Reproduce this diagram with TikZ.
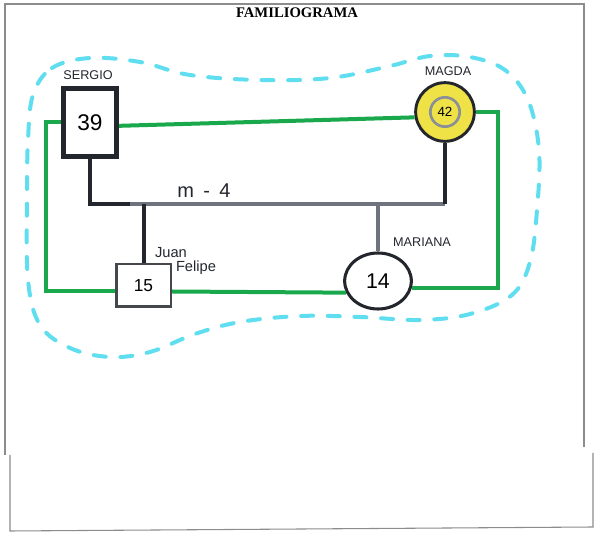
\documentclass[tikz,border=0pt]{standalone}
\usepackage{fontspec}
\setmainfont{Liberation Serif}
\newfontfamily\hand{Liberation Sans}
\usetikzlibrary{shapes.geometric}
\definecolor{grn}{RGB}{25,168,75}
\definecolor{cyn}{RGB}{95,222,240}
\definecolor{ylw}{RGB}{238,226,70}
\definecolor{drk}{RGB}{35,38,45}
\definecolor{gry}{RGB}{110,115,125}
\definecolor{frm}{RGB}{140,140,140}
\begin{document}
\begin{tikzpicture}[x=0.75pt,y=-0.75pt,
  greenline/.style={draw=grn,line width=3pt},
  kin/.style={draw=drk,line width=3pt},
  kingrey/.style={draw=gry,line width=3pt},
  lbl/.style={font=\hand\fontsize{9.5}{10}\selectfont,text=drk,inner sep=0pt},
  frameline/.style={draw=frm,line width=0.8pt},
  bubble/.style={draw=cyn,line width=3pt,line cap=round,dash pattern=on 9pt off 11pt}]
\useasboundingbox (0,0) rectangle (594,538);
% paper frame
\draw[frameline] (5,455) -- (5,4) -- (584,4) -- (584,447);
\draw[frameline] (10,455) -- (10,531) -- (593,527) -- (593,453);
% title
\node[font=\bfseries\fontsize{11}{12}\selectfont] (title) at (297,13) {FAMILIOGRAMA};
% household bubble
\draw[bubble] plot[smooth cycle,tension=0.6] coordinates {
 (33,95) (52,68) (90,58) (140,62) (190,75) (260,80) (330,78) (390,66)
 (430,56) (470,57) (505,70) (528,100) (539,150) (537,210) (530,262)
 (512,295) (470,314) (420,320) (360,317) (300,316) (240,322) (195,334)
 (150,352) (110,357) (70,348) (40,325) (28,280) (27,200) (28,140)};
% persons
\node[draw=drk,line width=3.5pt,fill=white,minimum width=40pt,minimum height=51pt,inner sep=0pt,
      font=\hand\fontsize{17}{17}\selectfont] (sergio) at (90,122.5) {39};
\node[circle,draw=drk,line width=2.2pt,fill=ylw,minimum size=44pt,inner sep=0pt] (magda) at (445,112) {};
\node[circle,draw=gry!80,line width=2pt,fill=ylw,minimum size=22pt,inner sep=0pt,
      font=\hand\fontsize{10}{10}\selectfont] (magdain) at (magda) {42};
\node[draw=drk!85,line width=2pt,fill=white,minimum width=41pt,minimum height=32pt,inner sep=0pt,
      font=\hand\fontsize{13}{13}\selectfont] (juan) at (143.5,285.5) {15};
\node[ellipse,draw=drk,line width=2.3pt,fill=white,minimum width=50pt,minimum height=42pt,inner sep=0pt,
      font=\hand\fontsize{16}{16}\selectfont] (mariana) at (378,281) {14};
% labels
\node[lbl] (lsergio) at (88,75) {SERGIO};
\node[lbl] (lmagda) at (448,71) {MAGDA};
\node[lbl] (lmariana) at (422,242) {MARIANA};
\node[lbl,font=\hand\fontsize{11}{11}\selectfont] (ljuan) at (171,253) {Juan};
\node[lbl,font=\hand\fontsize{11}{11}\selectfont] (lfelipe) at (196,268) {Felipe};
\node[lbl,font=\hand\fontsize{15}{15}\selectfont] (lm) at (204,191) {m\hspace{7pt}-\hspace{7pt}4};
% kinship lines
\coordinate (mL) at (90,204);
\coordinate (mR) at (445,204);
\draw[kingrey] (mL) -- (mR);
\draw[kin] (sergio.south) -- (mL) -- ++(40,0);
\draw[kin] (magda.south) -- (mR);
\draw[kin] (juan.north) -- (juan.north |- mR);
\draw[kingrey] (mariana.north) -- (mariana.north |- mR);
% relationship (green) lines
\coordinate (gL) at (46,122.5);
\coordinate (gR) at (498,112);
\draw[greenline] ([yshift=-2.5pt]sergio.east) -- (magda.190);
\draw[greenline] (sergio.west) -- (gL) |- ([yshift=-4.5pt]juan.west);
\draw[greenline] ([yshift=-4.5pt]juan.east) -- (mariana.200);
\draw[greenline] (mariana.-12) -| (gR) -- (magda.east);
\end{tikzpicture}
\end{document}
